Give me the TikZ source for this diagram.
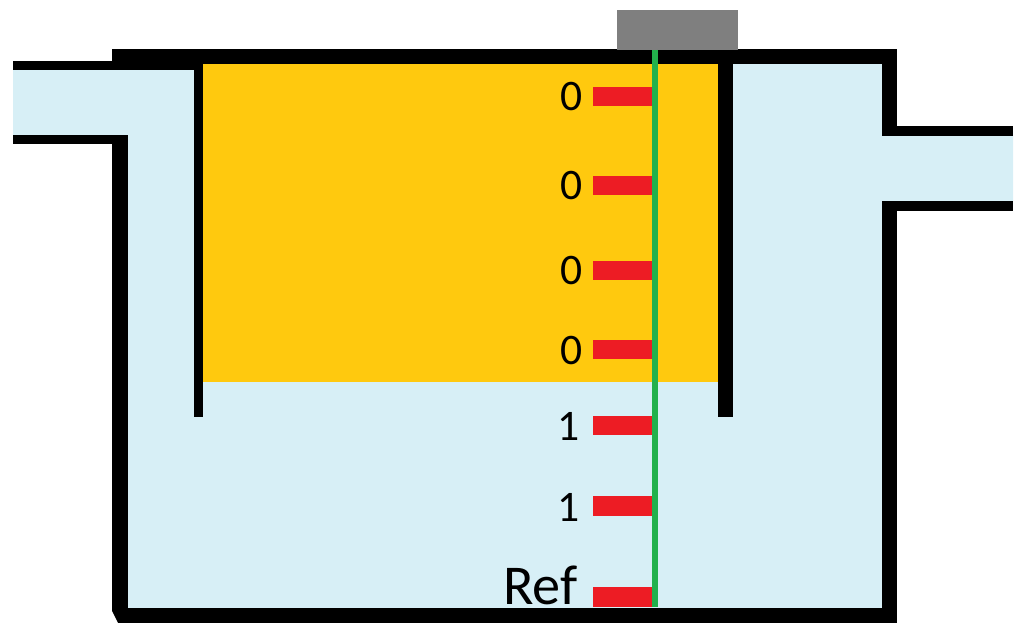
\documentclass[tikz,border=0pt]{standalone}
\usepackage{fontspec}
\setmainfont{Carlito}
\definecolor{water}{RGB}{215,239,246}
\definecolor{oil}{RGB}{255,201,14}
\definecolor{probered}{RGB}{237,28,36}
\definecolor{probegreen}{RGB}{34,177,76}
\definecolor{headgray}{RGB}{127,127,127}

\begin{document}
\begin{tikzpicture}[x=.025cm,y=-.025cm]

	\tikzstyle wall lines=[line width=.375cm];
	\tikzstyle pipe lines=[line width=.24cm];
	\tikzstyle sensor=[fill=probered];
	\tikzstyle level=[font=\fontsize{31}{31}\selectfont,anchor=center,inner sep=0pt];

	\useasboundingbox (0,0) rectangle (1024,633);

	% liquids
	\fill[water] (13,66) -- (120,66) -- (120,56) -- (890,56) -- (890,131) -- (1013,131) -- (1013,206) -- (890,206) -- (890,615) -- (120,615) -- (120,139) -- (13,139) -- cycle;
	\fill[oil] (198,60) rectangle (725,381.5);

	% tank
	\draw[pipe lines] (13,65.5) -- (198,65.5);
	\draw[wall lines] (112,56.5) -- (889.5,56.5) -- (889.5,131);
	\draw[pipe lines] (882,131) -- (1013,131);
	\draw[pipe lines] (13,139.3) -- (127.5,139.3);
	\draw[wall lines] (120,139) -- (120,615) -- (889.5,615) -- (889.5,201);
	\draw[pipe lines] (882,206) -- (1013,206);
	\fill[white] (112,611) -- (112,623) -- (118,623) -- cycle;

	% baffles
	\draw[pipe lines] (198.5,60) -- (198.5,417);
	\draw[wall lines] (725.5,60) -- (725.5,417);

	% sensors
	\fill[sensor] (593,87) rectangle (653,106);
	\fill[sensor] (593,176) rectangle (653,195);
	\fill[sensor] (593,261) rectangle (653,280);
	\fill[sensor] (593,340) rectangle (653,359);
	\fill[sensor] (593,415.5) rectangle (653,435);
	\fill[sensor] (593,496) rectangle (653,516);
	\fill[sensor] (593,587) rectangle (653,607);

	\fill[headgray] (617,10) rectangle (737.5,49.5);
	\draw[probegreen,line width=.15cm] (655,49.5) -- (655,607);

	\node[level] (read1) at (572,96) {0};
	\node[level] (read2) at (572,185) {0};
	\node[level] (read3) at (572,270) {0};
	\node[level] (read4) at (572,350) {0};
	\node[level] (read5) at (569,426) {1};
	\node[level] (read6) at (569,507) {1};
	\node[level,font=\fontsize{40}{40}\selectfont] (refname) at (540.5,585) {Ref};

\end{tikzpicture}
\end{document}
